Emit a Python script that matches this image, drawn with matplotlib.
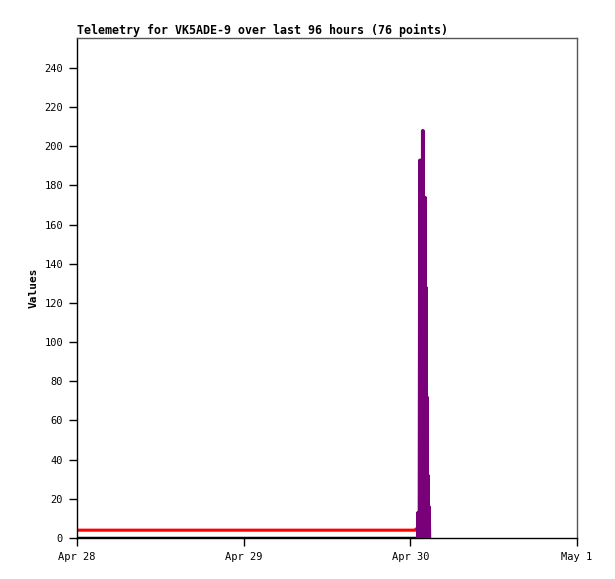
import matplotlib
matplotlib.use("Agg")
import matplotlib.pyplot as plt
from datetime import datetime, timedelta

title = "Telemetry for VK5ADE-9 over last 96 hours (76 points)"
ylabel = "Values"
x_tick_labels = ["Apr 28", "Apr 29", "Apr 30", "May 1"]
x_tick_dates = [datetime(2024, 4, 28), datetime(2024, 4, 29), datetime(2024, 4, 30), datetime(2024, 5, 1)]
y_ticks = list(range(0, 241, 20))

base = datetime(2024, 4, 28)
# hours after Apr 28 00:00
red_hours = [0.0, 48.72, 48.85, 49.5, 50.1]
red_values = [4.0, 4.0, 4.7, 4.7, 4.7]

black_hours = [0.0, 50.45]
black_values = [0.0, 0.0]

purple_hours = [49.01, 49.05, 49.12, 49.18, 49.25, 49.33, 49.38, 49.44, 49.51,
                49.58, 49.66, 49.73, 49.80, 49.87, 49.95, 50.02, 50.09, 50.16,
                50.23, 50.30, 50.38, 50.45, 50.52, 50.59, 50.66, 50.74, 50.81]
purple_values = [0, 13, 0, 13, 0, 193, 0, 193, 0,
                 175, 0, 208, 0, 208, 0, 174, 0, 174,
                 0, 128, 0, 72, 0, 32, 0, 16, 0]

def to_dt(hours):
    return [base + timedelta(hours=h) for h in hours]

mono = ["DejaVu Sans Mono"]
fig = plt.figure(figsize=(6.15, 5.79), dpi=100)
ax = fig.add_axes([77/615, 41/579, 500/615, 500/579])

ax.plot(to_dt(black_hours), black_values, color="black", lw=2.5, solid_capstyle="butt", zorder=3)
ax.plot(to_dt(red_hours), red_values, color="#ff0000", lw=2.2, solid_capstyle="butt", zorder=2)
ax.plot(to_dt(purple_hours), purple_values, color="#7a007a", lw=2.0, zorder=4)

ax.set_xlim(x_tick_dates[0], x_tick_dates[-1])
ax.set_ylim(0, 255.3)
ax.set_xticks(x_tick_dates)
ax.set_xticklabels(x_tick_labels, family=mono, fontsize=7.5)
ax.set_yticks(y_ticks)
ax.set_yticklabels([str(v) for v in y_ticks], family=mono, fontsize=7.5)
ax.tick_params(direction="out", length=6, width=1, color="black", pad=4)
for s in ax.spines.values():
    s.set_color("#555555")
    s.set_linewidth(1)
ax.spines["bottom"].set_color("black")
ax.spines["left"].set_color("black")

ax.set_title(title, loc="left", family=mono, fontsize=8.4, fontweight="bold", pad=3)
ax.set_ylabel(ylabel, family=mono, fontsize=8, fontweight="bold", labelpad=4)

fig.savefig("out.png", dpi=100, facecolor="white")
